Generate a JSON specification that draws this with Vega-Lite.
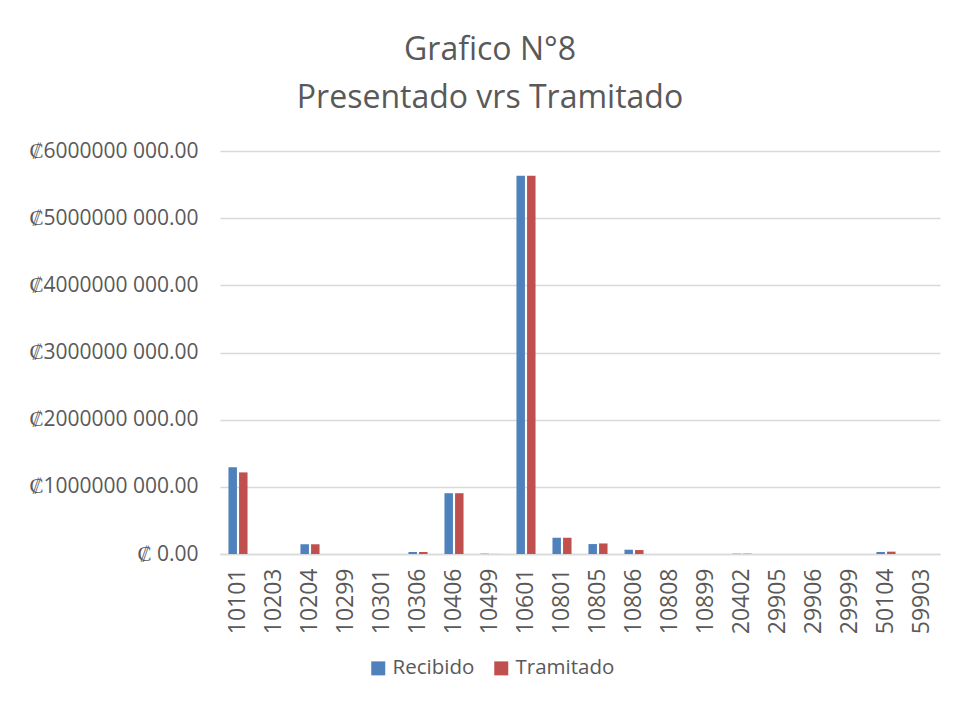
{
  "$schema": "https://vega.github.io/schema/vega-lite/v6.json",
  "width": 720,
  "height": 403,
  "autosize": {"type": "none"},
  "padding": {"left": 220, "top": 151, "right": 20, "bottom": 150},
  "background": "white",
  "title": {
    "text": ["Grafico N°8", "Presentado vrs Tramitado"],
    "font": "Open Sans",
    "fontSize": 32,
    "fontWeight": "normal",
    "color": "#595959",
    "lineHeight": 48,
    "anchor": "middle",
    "dx": -90,
    "offset": 25
  },
  "data": {
    "values": [
      {"codigo": "10101", "serie": "Recibido", "monto": 1290000000},
      {"codigo": "10101", "serie": "Tramitado", "monto": 1215000000},
      {"codigo": "10203", "serie": "Recibido", "monto": 0},
      {"codigo": "10203", "serie": "Tramitado", "monto": 0},
      {"codigo": "10204", "serie": "Recibido", "monto": 145000000},
      {"codigo": "10204", "serie": "Tramitado", "monto": 145000000},
      {"codigo": "10299", "serie": "Recibido", "monto": 0},
      {"codigo": "10299", "serie": "Tramitado", "monto": 0},
      {"codigo": "10301", "serie": "Recibido", "monto": 0},
      {"codigo": "10301", "serie": "Tramitado", "monto": 0},
      {"codigo": "10306", "serie": "Recibido", "monto": 30000000},
      {"codigo": "10306", "serie": "Tramitado", "monto": 30000000},
      {"codigo": "10406", "serie": "Recibido", "monto": 905000000},
      {"codigo": "10406", "serie": "Tramitado", "monto": 905000000},
      {"codigo": "10499", "serie": "Recibido", "monto": 5000000},
      {"codigo": "10499", "serie": "Tramitado", "monto": 1000000},
      {"codigo": "10601", "serie": "Recibido", "monto": 5630000000},
      {"codigo": "10601", "serie": "Tramitado", "monto": 5630000000},
      {"codigo": "10801", "serie": "Recibido", "monto": 242000000},
      {"codigo": "10801", "serie": "Tramitado", "monto": 242000000},
      {"codigo": "10805", "serie": "Recibido", "monto": 148000000},
      {"codigo": "10805", "serie": "Tramitado", "monto": 157000000},
      {"codigo": "10806", "serie": "Recibido", "monto": 64000000},
      {"codigo": "10806", "serie": "Tramitado", "monto": 59000000},
      {"codigo": "10808", "serie": "Recibido", "monto": 0},
      {"codigo": "10808", "serie": "Tramitado", "monto": 0},
      {"codigo": "10899", "serie": "Recibido", "monto": 0},
      {"codigo": "10899", "serie": "Tramitado", "monto": 0},
      {"codigo": "20402", "serie": "Recibido", "monto": 5000000},
      {"codigo": "20402", "serie": "Tramitado", "monto": 5000000},
      {"codigo": "29905", "serie": "Recibido", "monto": 0},
      {"codigo": "29905", "serie": "Tramitado", "monto": 0},
      {"codigo": "29906", "serie": "Recibido", "monto": 0},
      {"codigo": "29906", "serie": "Tramitado", "monto": 0},
      {"codigo": "29999", "serie": "Recibido", "monto": 0},
      {"codigo": "29999", "serie": "Tramitado", "monto": 0},
      {"codigo": "50104", "serie": "Recibido", "monto": 30000000},
      {"codigo": "50104", "serie": "Tramitado", "monto": 35000000},
      {"codigo": "59903", "serie": "Recibido", "monto": 0},
      {"codigo": "59903", "serie": "Tramitado", "monto": 0}
    ]
  },
  "mark": {"type": "bar"},
  "encoding": {
    "x": {
      "field": "codigo",
      "type": "nominal",
      "sort": null,
      "scale": {"paddingInner": 0.47, "paddingOuter": 0.235},
      "axis": {
        "title": null,
        "labelAngle": -90,
        "labelFont": "Open Sans",
        "labelFontSize": 23,
        "labelColor": "#595959",
        "labelPadding": 14,
        "ticks": false,
        "domain": true,
        "domainColor": "#d9d9d9",
        "domainWidth": 1.5,
        "grid": false
      }
    },
    "xOffset": {
      "field": "serie",
      "type": "nominal",
      "scale": {"paddingInner": 0.2, "paddingOuter": 0}
    },
    "y": {
      "field": "monto",
      "type": "quantitative",
      "scale": {"domain": [0, 6000000000], "nice": false},
      "axis": {
        "title": null,
        "values": [0, 1000000000, 2000000000, 3000000000, 4000000000, 5000000000, 6000000000],
        "labelExpr": "datum.value == 0 ? '₡ 0.00' : '₡' + format(datum.value / 1000, 'd') + ' 000.00'",
        "labelFont": "Open Sans",
        "labelFontSize": 21,
        "labelColor": "#595959",
        "labelPadding": 22,
        "ticks": false,
        "domain": false,
        "grid": true,
        "gridColor": "#d9d9d9",
        "gridWidth": 1.5
      }
    },
    "color": {
      "field": "serie",
      "type": "nominal",
      "scale": {"domain": ["Recibido", "Tramitado"], "range": ["#4F81BD", "#C0504D"]},
      "legend": {
        "title": null,
        "orient": "none",
        "direction": "horizontal",
        "legendX": 148,
        "legendY": 507,
        "symbolType": "square",
        "symbolSize": 196,
        "symbolStrokeWidth": 0,
        "labelFont": "Open Sans",
        "labelFontSize": 20.5,
        "labelColor": "#595959",
        "labelOffset": 4,
        "columnPadding": 16
      }
    }
  },
  "config": {
    "view": {"stroke": null}
  }
}
